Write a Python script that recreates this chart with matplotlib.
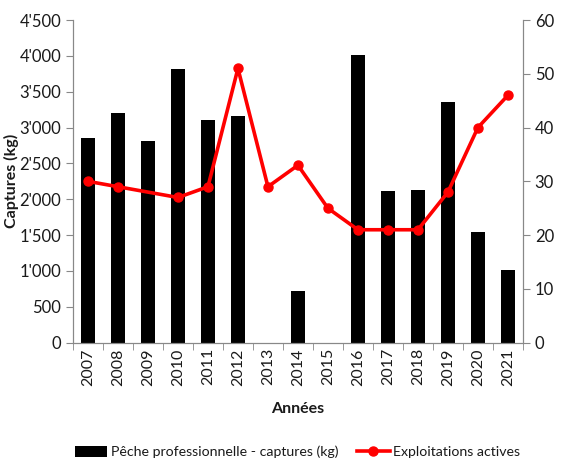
import numpy as np
import matplotlib
matplotlib.use("Agg")
import matplotlib.pyplot as plt
from matplotlib.ticker import FuncFormatter

plt.rcParams['font.family'] = ['Lato', 'DejaVu Sans']

annees = ['2007', '2008', '2009', '2010', '2011', '2012', '2013', '2014',
          '2015', '2016', '2017', '2018', '2019', '2020', '2021']
captures = [2850, 3210, 2810, 3820, 3110, 3160, 0, 720,
            0, 4010, 2120, 2130, 3350, 1550, 1020]
# 2009 sans valeur pour les exploitations
exploitations = [30, 29, np.nan, 27, 29, 51, 29, 33,
                 25, 21, 21, 21, 28, 40, 46]

grey = '#888888'
txt = '#1a1a1a'

fig = plt.figure(figsize=(5.81, 4.59), dpi=100)
ax = fig.add_axes([0.1256, 0.2534, 0.7744, 0.703])
ax2 = ax.twinx()

x = np.arange(len(annees))
b = ax.bar(x, captures, width=0.45, color='black',
           label='Pêche professionnelle - captures (kg)', zorder=2)

expl = np.array(exploitations, dtype=float)
ok = ~np.isnan(expl)
l, = ax2.plot(x[ok], expl[ok], color='red', lw=2.6, marker='o', ms=6.5,
              label='Exploitations actives', zorder=3)

ax.set_xlim(-0.5, len(annees) - 0.5)
ax.set_ylim(0, 4500)
ax.set_yticks(np.arange(0, 4501, 500))
ax.yaxis.set_major_formatter(FuncFormatter(lambda v, p: f"{int(v):,}".replace(',', "'")))
ax2.set_ylim(0, 60)
ax2.set_yticks(np.arange(0, 61, 10))

ax.set_xticks(x)
ax.set_xticklabels(annees, rotation=90, fontsize=11.5, color=txt)
ax.set_xticks(np.arange(-0.5, len(annees), 1), minor=True)
ax.tick_params(axis='x', which='major', length=0, pad=4)
ax.tick_params(axis='x', which='minor', length=5, color=grey, direction='out')
ax.tick_params(axis='y', length=5, color=grey, direction='out', labelsize=12, labelcolor=txt)
ax2.tick_params(axis='y', length=5, color=grey, direction='out', labelsize=12, labelcolor=txt)
for a in (ax, ax2):
    for s in a.spines.values():
        s.set_color(grey)
    a.spines['top'].set_visible(False)

ax.set_xlabel('Années', fontsize=11.5, fontweight='bold', labelpad=12, color=txt)
ax.set_ylabel('Captures (kg)', fontsize=11.5, fontweight='bold', color=txt)
ax.yaxis.set_label_coords(-0.12, 0.5)

fig.legend([b, l], ['Pêche professionnelle - captures (kg)', 'Exploitations actives'],
           loc='center', bbox_to_anchor=(0.512, 0.015), ncol=2, frameon=False,
           fontsize=10.2, handlelength=2.3, handleheight=0.75, columnspacing=1.3,
           handletextpad=0.25, labelcolor=txt)

fig.savefig('out.png', dpi=100)
